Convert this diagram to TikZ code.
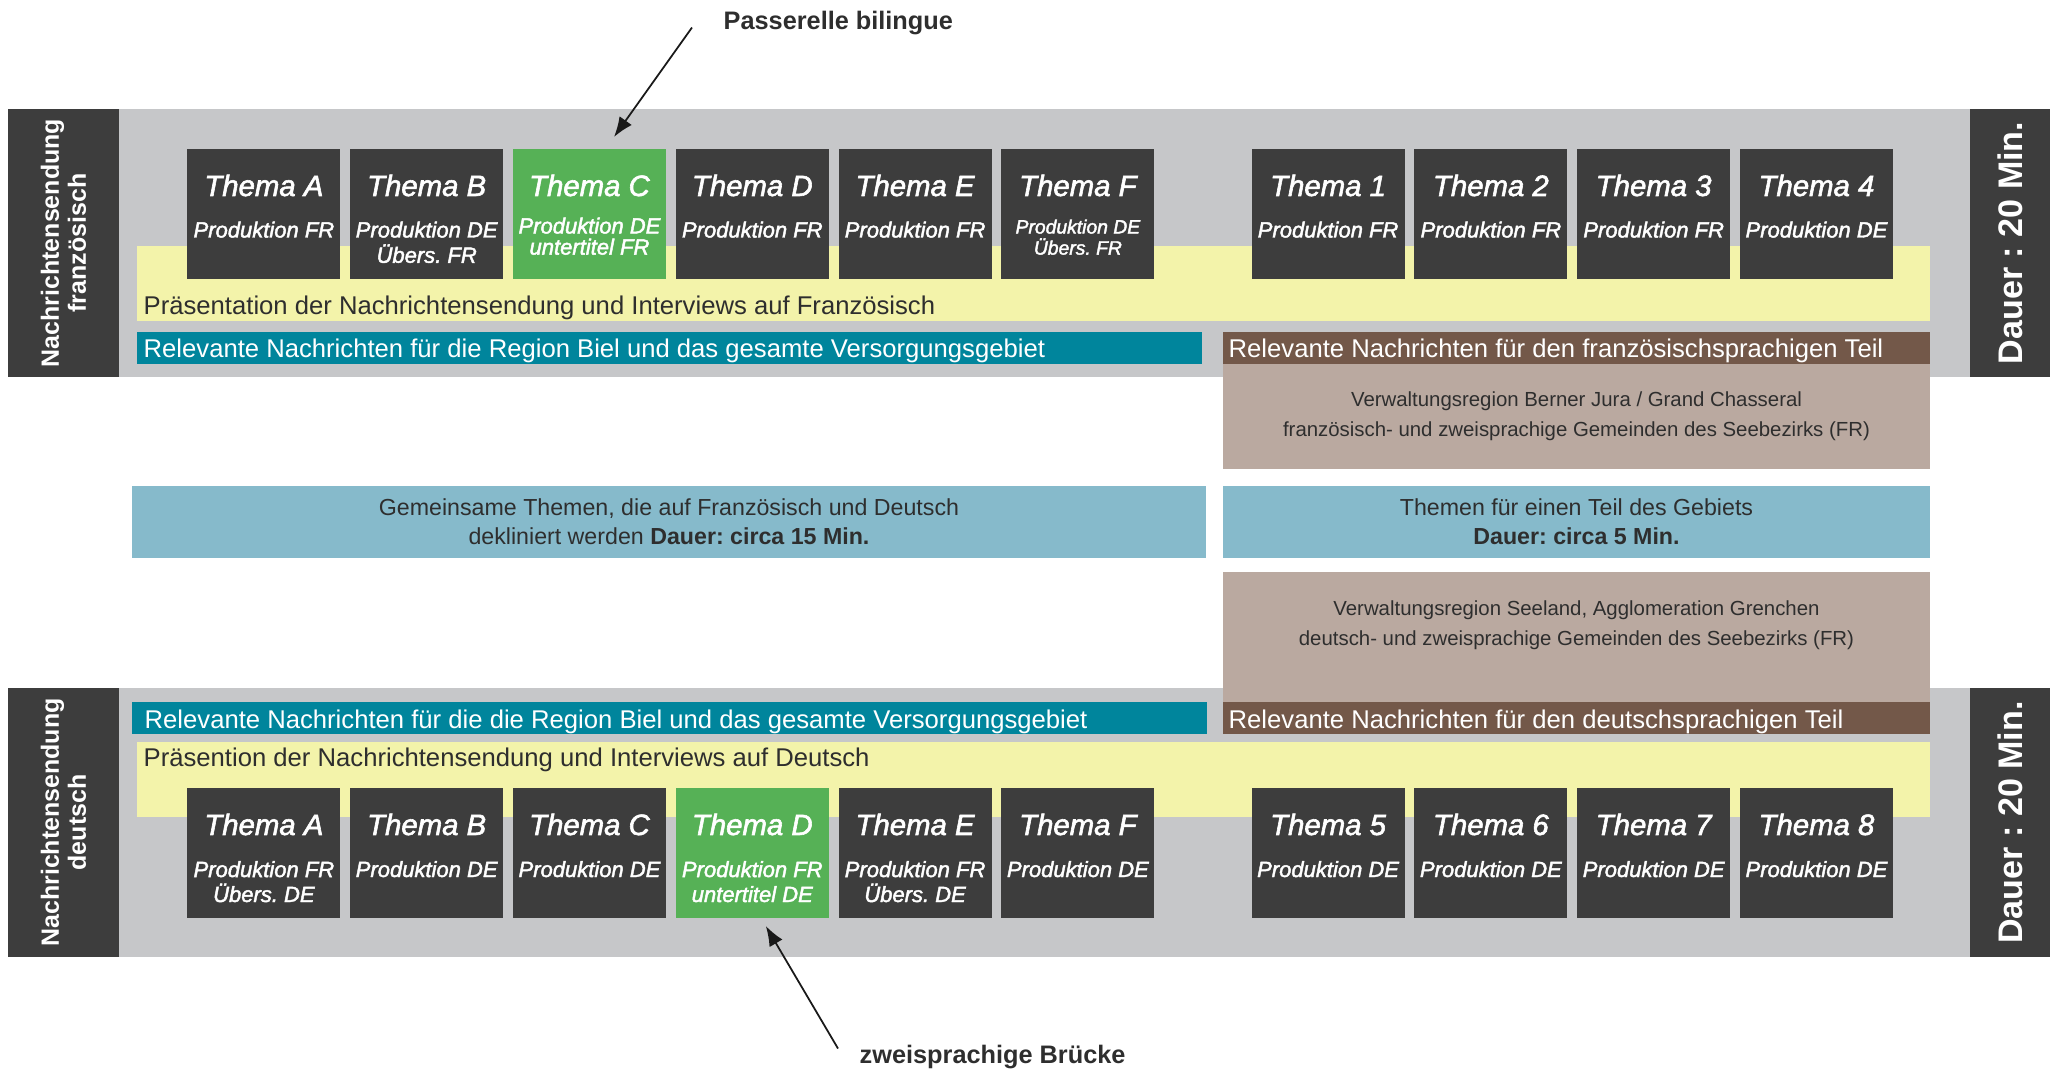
\documentclass[tikz,border=0pt]{standalone}
\usepackage{fontspec}
\setmainfont{Liberation Sans}
\newfontfamily\themafont[FakeBold=2]{Liberation Sans}
\usetikzlibrary{arrows.meta,positioning}
\definecolor{bandgray}{HTML}{C6C7C9}
\definecolor{boxdark}{HTML}{3D3D3D}
\definecolor{bridgegreen}{HTML}{56B156}
\definecolor{presyellow}{HTML}{F3F3AA}
\definecolor{regionteal}{HTML}{00859C}
\definecolor{partbrown}{HTML}{735849}
\definecolor{arealbrown}{HTML}{BAA9A0}
\definecolor{themeblue}{HTML}{86BACB}
\definecolor{textdark}{HTML}{2E2E2E}
\newcommand{\fsz}[2]{\fontsize{#1}{#2}\selectfont}
\frenchspacing
\tikzset{
  panel/.style={anchor=north west,inner sep=0pt,outer sep=0pt},
  band/.style={panel,fill=bandgray},
  sidebox/.style={fill=boxdark,text=white,inner sep=0pt,rotate=90,align=center,font=\bfseries\fsz{7.1}{6.2}},
  dauerbox/.style={fill=boxdark,text=white,inner sep=0pt,rotate=90,font=\bfseries\fsz{9.7}{11}},
  thema/.style={panel,minimum width=15.3mm,minimum height=13mm},
  title/.style={text=white,inner sep=0pt,anchor=base,font=\themafont\itshape\fsz{8.35}{10}},
  sub/.style={text=white,inner sep=0pt,anchor=base,align=center},
  strip/.style={panel,minimum height=3.2mm},
  striptext/.style={text=white,inner sep=0pt,anchor=base west,font=\fsz{7.3}{8.5}},
  prestext/.style={text=textdark,inner sep=0pt,anchor=base west,font=\fsz{7.3}{8.5}},
  themebox/.style={panel,fill=themeblue,text=textdark,align=center,minimum height=7.2mm,font=\fsz{6.6}{8.2}},
  areabox/.style={panel,fill=arealbrown,text=textdark,align=center,minimum width=70.7mm,font=\fsz{5.8}{8.5}},
  note/.style={text=textdark,inner sep=0pt,anchor=base west,font=\bfseries\fsz{7.2}{9}},
  pointer/.style={-{Latex[length=2mm,width=1.5mm]},line width=0.5pt,draw=black!90}
}
\begin{document}
\begin{tikzpicture}[x=0.1mm,y=-0.1mm]
  \useasboundingbox (0,0) rectangle (2055,1073);
  % French broadcast
  \node[band,minimum width=185.1mm,minimum height=26.8mm] (grayF) at (119,109) {};
  \node[sidebox,minimum width=26.8mm,minimum height=11.1mm] (sideF) at (63.5,243) {Nachrichtensendung\\französisch};
  \node[dauerbox,minimum width=26.8mm,minimum height=8mm] (dauerF) at (2010,243) {Dauer : 20 Min.};
  \node[panel,fill=presyellow,minimum width=179.3mm,minimum height=7.5mm] (yellowF) at (137,246) {};
  \node[prestext] (presF) at ([xshift=0.6mm,yshift=0.6mm]yellowF.south west) {Präsentation der Nachrichtensendung und Interviews auf Französisch};
  \node[strip,fill=regionteal,minimum width=106.5mm] (tealF) at (137,332) {};
  \node[striptext] (tealFt) at ([xshift=0.6mm,yshift=-1mm]tealF.west) {Relevante Nachrichten für die Region Biel und das gesamte Versorgungsgebiet};
  \node[strip,fill=partbrown,minimum width=70.7mm] (brownF) at (1223,332) {};
  \node[striptext] (brownFt) at ([xshift=0.5mm,yshift=-1mm]brownF.west) {Relevante Nachrichten für den französischsprachigen Teil};
  \node[areabox,minimum height=10.5mm] (jura) at (1223,364) {Verwaltungsregion Berner Jura / Grand Chasseral\\französisch- und zweisprachige Gemeinden des Seebezirks (FR)};
  \foreach \n/\px/\t/\s/\c/\o/\fnt in {
    FA/187.4/A/{Produktion FR}/boxdark/8.85/{\fsz{6.26}{7.2}},
    FB/350.2/B/{Produktion DE\\Übers. FR}/boxdark/11.38/{\fsz{6.26}{7.2}},
    FC/513.0/C/{Produktion DE\\untertitel FR}/bridgegreen/10.56/{\fsz{6.26}{6.0}},
    FD/675.8/D/{Produktion FR}/boxdark/8.85/{\fsz{6.26}{7.2}},
    FE/838.6/E/{Produktion FR}/boxdark/8.85/{\fsz{6.26}{7.2}},
    FF/1001.4/F/{Produktion DE\\Übers. FR}/boxdark/10.56/{\fsz{5.5}{6.0}},
    F1/1251.6/1/{Produktion FR}/boxdark/8.85/{\fsz{6.26}{7.2}},
    F2/1414.4/2/{Produktion FR}/boxdark/8.85/{\fsz{6.26}{7.2}},
    F3/1577.2/3/{Produktion FR}/boxdark/8.85/{\fsz{6.26}{7.2}},
    F4/1740.0/4/{Produktion DE}/boxdark/8.85/{\fsz{6.26}{7.2}}} {
    \node[thema,fill=\c] (\n) at (\px,149) {};
    \node[title] (\n-t) at ([yshift=-4.7mm]\n.north) {Thema \t};
    \node[sub,font={\themafont\itshape\fnt}] (\n-s) at ([yshift=-\o mm]\n.north) {\s};
  }
  % shared and partial topics
  \node[themebox,minimum width=107.4mm] (common) at (132,486) {Gemeinsame Themen, die auf Französisch und Deutsch\\dekliniert werden \textbf{Dauer: circa 15 Min.}};
  \node[themebox,minimum width=70.7mm] (partial) at (1223,486) {Themen für einen Teil des Gebiets\\\textbf{Dauer: circa 5 Min.}};
  % German broadcast
  \node[band,minimum width=185.1mm,minimum height=26.9mm] (grayD) at (119,688) {};
  \node[sidebox,minimum width=26.9mm,minimum height=11.1mm] (sideD) at (63.5,822.5) {Nachrichtensendung\\deutsch};
  \node[dauerbox,minimum width=26.9mm,minimum height=8mm] (dauerD) at (2010,822.5) {Dauer : 20 Min.};
  \node[areabox,minimum height=13mm] (seeland) at (1223,572) {};
  \node[text=textdark,align=center,inner sep=0pt,font=\fsz{5.8}{8.5}] (seelandt) at ([yshift=-5.3mm]seeland.north) {Verwaltungsregion Seeland, Agglomeration Grenchen\\deutsch- und zweisprachige Gemeinden des Seebezirks (FR)};
  \node[strip,fill=regionteal,minimum width=107.5mm] (tealD) at (132,702) {};
  \node[striptext] (tealDt) at ([xshift=1.2mm,yshift=-1mm]tealD.west) {Relevante Nachrichten für die die Region Biel und das gesamte Versorgungsgebiet};
  \node[strip,fill=partbrown,minimum width=70.7mm] (brownD) at (1223,702) {};
  \node[striptext] (brownDt) at ([xshift=0.5mm,yshift=-1mm]brownD.west) {Relevante Nachrichten für den deutschsprachigen Teil};
  \node[panel,fill=presyellow,minimum width=179.3mm,minimum height=7.5mm] (yellowD) at (137,742) {};
  \node[prestext] (presD) at ([xshift=0.6mm,yshift=-2.5mm]yellowD.north west) {Präsention der Nachrichtensendung und Interviews auf Deutsch};
  \foreach \n/\px/\t/\s/\c/\o in {
    DA/187.4/A/{Produktion FR\\Übers. DE}/boxdark/11.4,
    DB/350.2/B/{Produktion DE}/boxdark/8.9,
    DC/513.0/C/{Produktion DE}/boxdark/8.9,
    DD/675.8/D/{Produktion FR\\untertitel DE}/bridgegreen/11.4,
    DE/838.6/E/{Produktion FR\\Übers. DE}/boxdark/11.4,
    DF/1001.4/F/{Produktion DE}/boxdark/8.9,
    D5/1251.6/5/{Produktion DE}/boxdark/8.9,
    D6/1414.4/6/{Produktion DE}/boxdark/8.9,
    D7/1577.2/7/{Produktion DE}/boxdark/8.9,
    D8/1740.0/8/{Produktion DE}/boxdark/8.9} {
    \node[thema,fill=\c] (\n) at (\px,788) {};
    \node[title] (\n-t) at ([yshift=-4.7mm]\n.north) {Thema \t};
    \node[sub,font={\themafont\itshape\fsz{6.26}{7.1}}] (\n-s) at ([yshift=-\o mm]\n.north) {\s};
  }
  % bilingual bridges
  \node[note] (pass) at (723,30) {Passerelle bilingue};
  \node[note] (bridge) at (859,1063) {zweisprachige Brücke};
  \draw[pointer] ([xshift=-3.1mm,yshift=-0.4mm]pass.west) -- ([xshift=2.45mm,yshift=1.2mm]FC.north);
  \draw[pointer] ([xshift=-2.1mm,yshift=0.8mm]bridge.west) -- ([xshift=1.35mm,yshift=-0.8mm]DD.south);
\end{tikzpicture}
\end{document}
